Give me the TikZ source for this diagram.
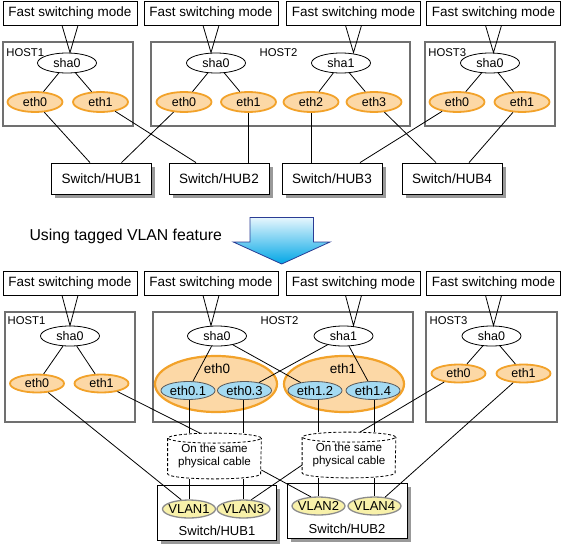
\documentclass[tikz,border=0pt]{standalone}
\usepackage{fontspec}
\setmainfont{Liberation Sans}
\usetikzlibrary{positioning, calc, shapes.geometric, shadows}

\definecolor{ethfill}{HTML}{FCD8A6}
\definecolor{ethline}{HTML}{F2A22A}
\definecolor{tagfill}{HTML}{A4DAF2}
\definecolor{vlanfill}{HTML}{F8F1AA}
\definecolor{hostline}{HTML}{707070}
\definecolor{arrowline}{HTML}{2A3C94}
\definecolor{arrowtop}{HTML}{E6F6FD}
\definecolor{arrowbot}{HTML}{00A6E6}

\tikzstyle{Mode} = [draw, fill=white, line width=0.8pt, minimum width=134pt,
  minimum height=24pt, inner sep=0pt, font=\fontsize{13.5}{16}\selectfont]
\tikzstyle{Host} = [draw=hostline, line width=1.4pt, inner sep=0pt, outer sep=0pt]
\tikzstyle{Name} = [inner sep=0pt, font=\fontsize{11.3}{13}\selectfont]
\tikzstyle{Sha} = [draw, ellipse, fill=white, line width=0.8pt, minimum width=59pt,
  minimum height=20pt, inner sep=0pt, font=\fontsize{12.5}{14}\selectfont]
\tikzstyle{Eth} = [draw=ethline, ellipse, fill=ethfill, line width=1.8pt, minimum width=55pt,
  minimum height=20pt, inner sep=0pt, font=\fontsize{12.5}{14}\selectfont]
\tikzstyle{Bond} = [draw=ethline, ellipse, fill=ethfill, line width=2.2pt,
  minimum height=56pt, inner sep=0pt]
\tikzstyle{Tag} = [draw=black!65, ellipse, fill=tagfill, line width=0.8pt, minimum width=54pt,
  minimum height=18pt, inner sep=0pt, font=\fontsize{13}{14}\selectfont]
\tikzstyle{Vlan} = [draw=black!45, ellipse, fill=vlanfill, line width=1.3pt, minimum width=53pt,
  minimum height=18pt, inner sep=0pt, inner xsep=-3pt, font=\fontsize{13}{14}\selectfont]
\tikzstyle{Hub} = [draw, fill=white, line width=0.8pt,
  drop shadow={shadow xshift=3.5pt, shadow yshift=-3.5pt, fill=black!40, opacity=1},
  inner sep=0pt, font=\fontsize{13.5}{16}\selectfont]
\tikzstyle{Cable} = [minimum width=93pt, minimum height=45pt, inner sep=0pt, align=center,
  font=\fontsize{11.6}{12.7}\selectfont]

\newcommand{\pointer}[2]{%
  \draw ($(#1.south)+(-8,0)$) -- (#1.south |- #2.north) -- ($(#1.south)+(8,0)$);}
\newcommand{\cable}[1]{%
  \draw[dash pattern=on 3pt off 2pt] ($(#1.north)+(0,-5)$) ellipse [x radius=46.5pt, y radius=5pt];
  \draw[dash pattern=on 3pt off 2pt] ($(#1.north west)+(0,-5)$) -- ($(#1.south west)+(0,5)$)
    arc [start angle=180, end angle=360, x radius=46.5pt, y radius=5pt] -- ($(#1.north east)+(0,-5)$);}

\begin{document}
\begin{tikzpicture}[x=1pt, y=1pt, line width=0.8pt]
    \useasboundingbox (0,0) rectangle (564,-546);

    % before
    \node[Mode] (m1) at (70,-13) {Fast switching mode};
    \node[Mode] (m2) at (211,-13) {Fast switching mode};
    \node[Mode] (m3) at (353.5,-13) {Fast switching mode};
    \node[Mode] (m4) at (493.5,-13) {Fast switching mode};

    \node[Host, minimum width=130pt, minimum height=84pt] (host1) at (68,-84) {};
    \node[Host, minimum width=259pt, minimum height=84pt] (host2) at (280.5,-84) {};
    \node[Host, minimum width=130pt, minimum height=84pt] (host3) at (490,-84) {};
    \node[Name, below right=6.3pt and 3pt of host1.north west] (n1) {HOST1};
    \node[Name, below=6.3pt of host2.north, xshift=-2pt] (n2) {HOST2};
    \node[Name, below right=6.3pt and 3pt of host3.north west] (n3) {HOST3};

    \node[Sha] (a1) at (67,-63) {sha0};
    \node[Sha] (a2) at (216,-63) {sha0};
    \node[Sha] (a3) at (341,-63) {sha1};
    \node[Sha] (a4) at (490,-63) {sha0};

    \node[Eth] (e1) at (35,-102) {eth0};
    \node[Eth] (e2) at (100.5,-102) {eth1};
    \node[Eth] (e3) at (184,-102) {eth0};
    \node[Eth] (e4) at (248.5,-102) {eth1};
    \node[Eth] (e5) at (311,-102) {eth2};
    \node[Eth] (e6) at (374,-102) {eth3};
    \node[Eth] (e7) at (457,-102) {eth0};
    \node[Eth] (e8) at (522,-102) {eth1};

    \node[Hub, minimum width=100pt, minimum height=31pt] (hub1) at (101.5,-178.5) {Switch/HUB1};
    \node[Hub, minimum width=100pt, minimum height=31pt] (hub2) at (219,-178.5) {Switch/HUB2};
    \node[Hub, minimum width=100pt, minimum height=31pt] (hub3) at (332,-178.5) {Switch/HUB3};
    \node[Hub, minimum width=100pt, minimum height=31pt] (hub4) at (452,-178.5) {Switch/HUB4};

    \pointer{m1}{a1}
    \pointer{m2}{a2}
    \pointer{m3}{a3}
    \pointer{m4}{a4}

    \draw (a1) -- (e1);
    \draw (a1) -- (e2);
    \draw (a2) -- (e3);
    \draw (a2) -- (e4);
    \draw (a3) -- (e5);
    \draw (a3) -- (e6);
    \draw (a4) -- (e7);
    \draw (a4) -- (e8);

    \draw (e1) -- ($(hub1.north)+(-11.5,0)$);
    \draw (e2) -- ($(hub2.north)+(-23,0)$);
    \draw (e3) -- ($(hub1.north)+(20,0)$);
    \draw (e4) -- (e4 |- hub2.north);
    \draw (e5) -- (e5 |- hub3.north);
    \draw (e6) -- ($(hub4.north)+(-16,0)$);
    \draw (e7) -- ($(hub3.north)+(28,0)$);
    \draw (e8) -- ($(hub4.north)+(17,0)$);

    % change
    \shade[top color=arrowtop, bottom color=arrowbot, draw=arrowline]
        (250,-217.5) -- (313.5,-217.5) -- (313.5,-242) -- (330,-242) -- (281.7,-264)
        -- (233.3,-242) -- (250,-242) -- cycle;
    \node[inner sep=0pt, anchor=base east, font=\fontsize{15.8}{18}\selectfont] (use)
        at (222.3,-240) {Using tagged VLAN feature};

    % after
    \node[Mode] (m5) at (70,-283) {Fast switching mode};
    \node[Mode] (m6) at (211,-283) {Fast switching mode};
    \node[Mode] (m7) at (353.5,-283) {Fast switching mode};
    \node[Mode] (m8) at (493.5,-283) {Fast switching mode};

    \node[Host, minimum width=130pt, minimum height=110pt] (host4) at (70,-367) {};
    \node[Host, minimum width=260pt, minimum height=110pt] (host5) at (283,-367) {};
    \node[Host, minimum width=131pt, minimum height=110pt] (host6) at (491.5,-367) {};
    \node[Name, below right=4.7pt and 2.3pt of host4.north west] (n4) {HOST1};
    \node[Name, below=4.7pt of host5.north, xshift=-3.5pt] (n5) {HOST2};
    \node[Name, below right=4.7pt and 3.3pt of host6.north west] (n6) {HOST3};

    \node[Sha] (b1) at (70,-336) {sha0};
    \node[Sha] (b2) at (217,-336) {sha0};
    \node[Sha] (b3) at (343.5,-336) {sha1};
    \node[Sha] (b4) at (491.5,-336) {sha0};

    \node[Eth, minimum height=18pt, minimum width=54pt] (c1) at (37,-383.5) {eth0};
    \node[Eth, minimum height=18pt, minimum width=54pt] (c2) at (101.5,-383.5) {eth1};
    \node[Eth, minimum height=18pt, minimum width=54pt] (c7) at (458.5,-373.5) {eth0};
    \node[Eth, minimum height=18pt, minimum width=54pt] (c8) at (523.5,-373.5) {eth1};

    \node[Bond, minimum width=122pt] (bond0) at (216,-384) {};
    \node[Bond, minimum width=120pt] (bond1) at (344,-384) {};
    \node[font=\fontsize{13.5}{16}\selectfont] (l0) at (217,-369) {eth0};
    \node[font=\fontsize{13.5}{16}\selectfont] (l1) at (343,-369) {eth1};
    \node[Tag] (d1) at (188,-390.5) {eth0.1};
    \node[Tag] (d3) at (244.5,-390.5) {eth0.3};
    \node[Tag] (d2) at (315,-390.5) {eth1.2};
    \node[Tag] (d4) at (373,-390.5) {eth1.4};

    \node[Cable] (cab1) at (214.5,-456) {On the same\\physical cable};
    \node[Cable] (cab2) at (349,-455) {On the same\\physical cable};
    \cable{cab1}
    \cable{cab2}

    \node[Hub, minimum width=119pt, minimum height=55pt] (sw1) at (216.5,-512.5) {};
    \node[Hub, minimum width=120pt, minimum height=55pt] (sw2) at (347,-510.5) {};
    \node[font=\fontsize{13}{15}\selectfont] (t1) at (217,-531) {Switch/HUB1};
    \node[font=\fontsize{13}{15}\selectfont] (t2) at (347,-529) {Switch/HUB2};
    \node[Vlan] (v1) at (189,-509) {VLAN1};
    \node[Vlan] (v3) at (243.5,-509) {VLAN3};
    \node[Vlan] (v2) at (318.5,-506) {VLAN2};
    \node[Vlan] (v4) at (374.5,-506) {VLAN4};

    \pointer{m5}{b1}
    \pointer{m6}{b2}
    \pointer{m7}{b3}
    \pointer{m8}{b4}

    \draw (b1) -- (c1);
    \draw (b1) -- (c2);
    \draw (b4) -- (c7);
    \draw (b4) -- (c8);
    \draw (b2) -- (d1);
    \draw (b2) -- (d2);
    \draw (b3) -- (d3);
    \draw (b3) -- (d4);

    \draw (v1 |- d1.south) -- (v1 |- cab1.north) (v1 |- cab1.south) -- (v1);
    \draw (v3 |- d3.south) -- (v3 |- cab1.north) (v3 |- cab1.south) -- (v3);
    \draw (v2 |- d2.south) -- (v2 |- cab2.north) (v2 |- cab2.south) -- (v2);
    \draw (v4 |- d4.south) -- (v4 |- cab2.north) (v4 |- cab2.south) -- (v4);

    \draw (c1) -- (v1.130);
    \draw (c2) -- ($(cab1.north)+(-14.5,0)$);
    \draw ($(cab1.east)+(0,-14)$) -- (v2.130);
    \draw (c7) -- ($(cab2.north)+(11,0)$);
    \draw ($(cab2.west)+(0,-10)$) -- (v3.50);
    \draw (c8) -- (v4.40);
\end{tikzpicture}
\end{document}
